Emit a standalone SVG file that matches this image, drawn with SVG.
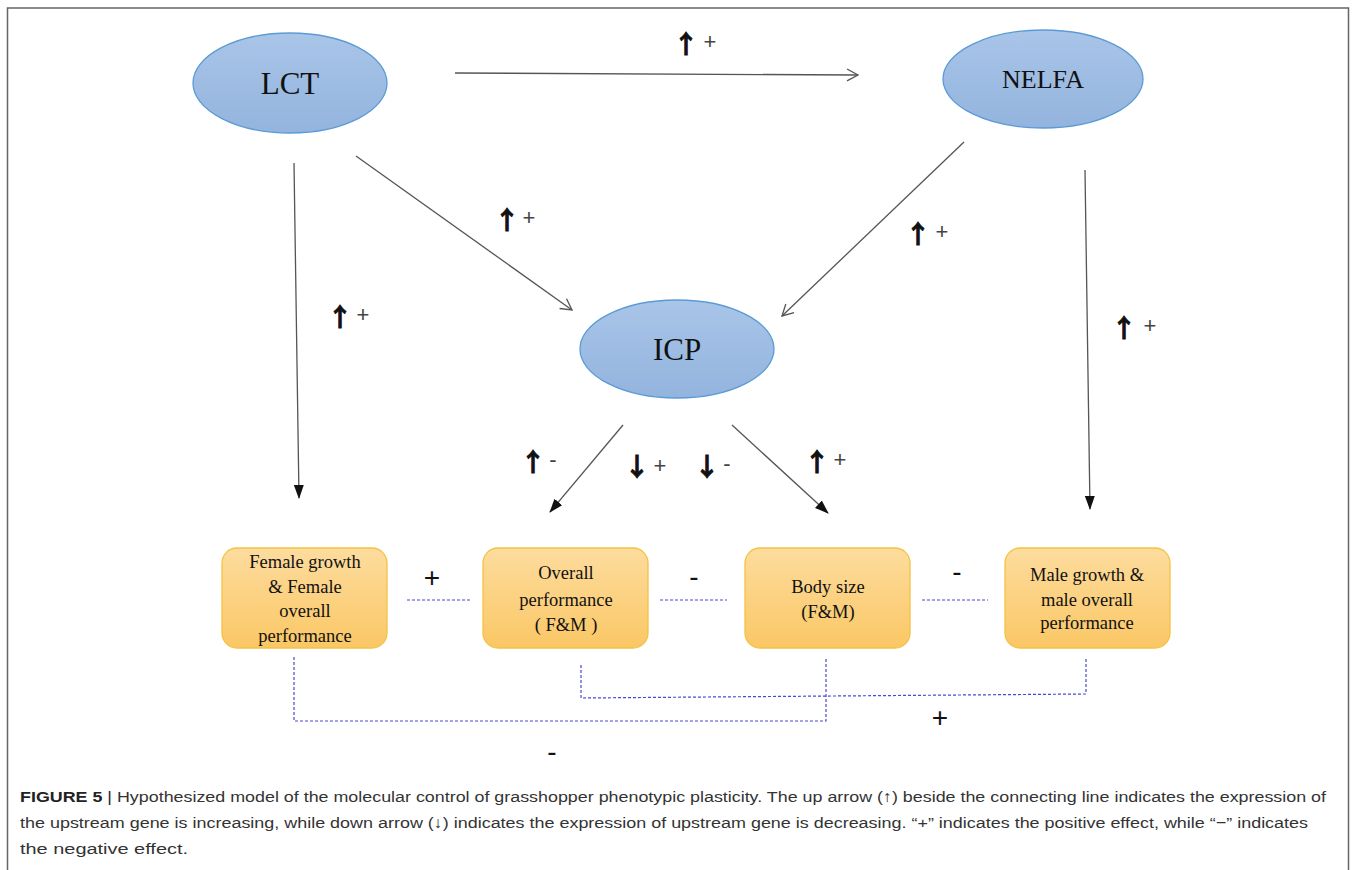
<svg xmlns="http://www.w3.org/2000/svg" width="1358" height="870" viewBox="0 0 1358 870">
<style>
.ell{stroke:#5b9bd5;stroke-width:1.3;fill:url(#blueG)}
.etxt{font-family:"Liberation Serif",serif;font-size:31px;fill:#111;text-anchor:middle}
.box{stroke:#f4c242;stroke-width:1.3;fill:url(#orG)}
.btxt{font-family:"Liberation Serif",serif;font-size:18.5px;fill:#111;text-anchor:middle}
.ln{stroke:#555;stroke-width:1.3;fill:none}
.dash{stroke:#4848d8;stroke-width:1.2;stroke-dasharray:3 2;fill:none}
.arr{font-family:"Noto Sans CJK SC",sans-serif;font-size:25px;font-weight:bold;fill:#111;stroke:#111;stroke-width:0.9;text-anchor:middle;dominant-baseline:central}
.sg{font-family:"Liberation Sans",sans-serif;font-size:22px;fill:#444;text-anchor:middle;dominant-baseline:central}
.big{font-family:"Liberation Sans",sans-serif;font-size:28px;fill:#111;text-anchor:middle;dominant-baseline:central}
.cap{font-family:"Liberation Sans",sans-serif;font-size:15.5px;fill:#333}
</style>
<defs>
<linearGradient id="blueG" x1="0" y1="0" x2="0" y2="1"><stop offset="0" stop-color="#a9c5e8"/><stop offset="1" stop-color="#93b4de"/></linearGradient>
<linearGradient id="orG" x1="0" y1="0" x2="0" y2="1"><stop offset="0" stop-color="#fddc9e"/><stop offset="1" stop-color="#fac765"/></linearGradient>
<marker id="open" markerWidth="14" markerHeight="14" refX="12" refY="7" orient="auto" markerUnits="userSpaceOnUse"><path d="M1,1 L12,7 L1,13" fill="none" stroke="#555" stroke-width="1.3"/></marker>
<marker id="fill" markerWidth="14" markerHeight="14" refX="13" refY="7" orient="auto" markerUnits="userSpaceOnUse"><path d="M0,2 L14,7 L0,12 Z" fill="#111"/></marker>
</defs>
<rect width="1358" height="870" fill="#fff"/>
<path d="M7.5,870 V8 H1348.5 V870" fill="none" stroke="#666" stroke-width="1.5"/>

<g id="connectors">
<line class="ln" x1="455" y1="73" x2="858" y2="75" marker-end="url(#open)"/>
<line class="ln" x1="356" y1="156" x2="572" y2="310" marker-end="url(#open)"/>
<line class="ln" x1="964" y1="142" x2="782" y2="316" marker-end="url(#open)"/>
<line class="ln" x1="294" y1="163" x2="299" y2="498" marker-end="url(#fill)"/>
<line class="ln" x1="1085" y1="170" x2="1090" y2="509" marker-end="url(#fill)"/>
<line class="ln" x1="623" y1="425" x2="550" y2="512" marker-end="url(#fill)"/>
<line class="ln" x1="732" y1="425" x2="828" y2="513" marker-end="url(#fill)"/>
<line class="dash" x1="407" y1="600" x2="472" y2="600"/>
<line class="dash" x1="660" y1="600" x2="727" y2="600"/>
<line class="dash" x1="922" y1="600" x2="988" y2="600"/>
<path class="dash" d="M294,657 V721 H826 V657"/>
<path class="dash" d="M581,665 V698 L1086,694 V657"/>
</g>

<g id="labels">
<text class="arr" x="686" y="42">↑</text><text class="sg" x="710" y="41">+</text>
<text class="arr" x="507" y="218">↑</text><text class="sg" x="529" y="217">+</text>
<text class="arr" x="340" y="315">↑</text><text class="sg" x="363" y="314">+</text>
<text class="arr" x="918" y="232">↑</text><text class="sg" x="942" y="231">+</text>
<text class="arr" x="1124" y="326">↑</text><text class="sg" x="1150" y="325">+</text>
<text class="arr" x="533" y="460">↑</text><text class="sg" x="553" y="459">-</text>
<text class="arr" x="637" y="465">↓</text><text class="sg" x="660" y="465">+</text>
<text class="arr" x="707" y="465">↓</text><text class="sg" x="727" y="463">-</text>
<text class="arr" x="817" y="460">↑</text><text class="sg" x="840" y="459">+</text>
<text class="big" x="432" y="577">+</text>
<text class="big" x="694" y="576">-</text>
<text class="big" x="957" y="571">-</text>
<text class="big" x="940" y="717">+</text>
<text class="big" x="552" y="751">-</text>
</g>

<g id="LCT"><ellipse class="ell" cx="290" cy="83" rx="97" ry="50"/><text class="etxt" x="290" y="94">LCT</text></g>
<g id="NELFA"><ellipse class="ell" cx="1043" cy="79" rx="100" ry="49"/><text class="etxt" x="1043" y="88" style="font-size:26px">NELFA</text></g>
<g id="ICP"><ellipse class="ell" cx="677" cy="349" rx="97" ry="49"/><text class="etxt" x="677" y="360">ICP</text></g>

<g id="female"><rect class="box" x="222" y="548" width="165" height="100" rx="15"/>
<text class="btxt" x="305" y="568">Female growth</text><text class="btxt" x="305" y="593">&amp; Female</text><text class="btxt" x="305" y="617">overall</text><text class="btxt" x="305" y="642">performance</text></g>
<g id="overall"><rect class="box" x="483" y="548" width="165" height="100" rx="15"/>
<text class="btxt" x="566" y="579">Overall</text><text class="btxt" x="566" y="606">performance</text><text class="btxt" x="566" y="631">( F&amp;M )</text></g>
<g id="body"><rect class="box" x="745" y="548" width="165" height="100" rx="15"/>
<text class="btxt" x="828" y="593">Body size</text><text class="btxt" x="828" y="618">(F&amp;M)</text></g>
<g id="male"><rect class="box" x="1005" y="548" width="165" height="100" rx="15"/>
<text class="btxt" x="1087" y="581">Male growth &amp;</text><text class="btxt" x="1087" y="606">male overall</text><text class="btxt" x="1087" y="629">performance</text></g>

<g id="caption">
<text class="cap" x="20" y="802" textLength="1306" lengthAdjust="spacingAndGlyphs"><tspan font-weight="bold" fill="#222">FIGURE 5</tspan><tspan fill="#222"> | </tspan>Hypothesized model of the molecular control of grasshopper phenotypic plasticity. The up arrow (↑) beside the connecting line indicates the expression of</text>
<text class="cap" x="20" y="828" textLength="1288" lengthAdjust="spacingAndGlyphs">the upstream gene is increasing, while down arrow (↓) indicates the expression of upstream gene is decreasing. “+” indicates the positive effect, while “−” indicates</text>
<text class="cap" x="20" y="854" textLength="168" lengthAdjust="spacingAndGlyphs">the negative effect.</text>
</g>
</svg>
